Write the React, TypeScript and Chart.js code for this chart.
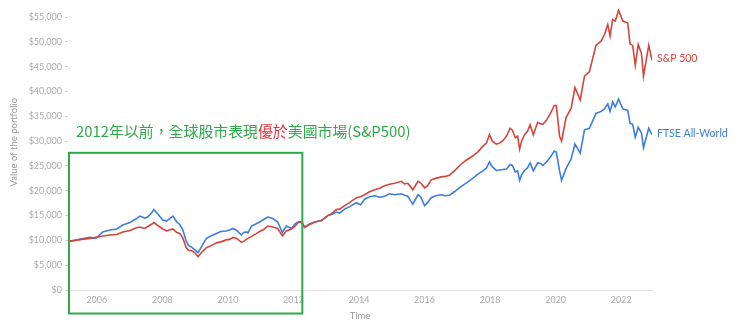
import React, { useEffect, useRef } from "react";
import { Chart, registerables } from "chart.js";

Chart.register(...registerables);

// Time (decimal years)
const years = [
  2005.12, 2005.33, 2005.54, 2005.79, 2005.97, 2006.18, 2006.4, 2006.61, 2006.79, 2007.01,
  2007.19, 2007.31, 2007.46, 2007.55, 2007.68, 2007.74, 2007.86, 2008.01, 2008.13, 2008.26,
  2008.32, 2008.44, 2008.53, 2008.62, 2008.73, 2008.8, 2008.9, 2008.99, 2009.09, 2009.2,
  2009.34, 2009.48, 2009.65, 2009.78, 2009.95, 2010.05, 2010.16, 2010.27, 2010.41, 2010.48,
  2010.56, 2010.61, 2010.72, 2010.85, 2010.97, 2011.09, 2011.22, 2011.37, 2011.52, 2011.66,
  2011.78, 2011.94, 2012.04, 2012.16, 2012.25, 2012.34, 2012.49, 2012.65, 2012.85, 2013.05,
  2013.16, 2013.31, 2013.41, 2013.56, 2013.71, 2013.92, 2014.05, 2014.17, 2014.32, 2014.48,
  2014.63, 2014.78, 2014.93, 2015.09, 2015.29, 2015.39, 2015.49, 2015.57, 2015.64, 2015.8,
  2015.88, 2016.0, 2016.09, 2016.2, 2016.34, 2016.51, 2016.64, 2016.76, 2016.91, 2017.12,
  2017.28, 2017.47, 2017.62, 2017.78, 2017.89, 2017.98, 2018.07, 2018.19, 2018.29, 2018.39,
  2018.5, 2018.61, 2018.68, 2018.77, 2018.84, 2018.9, 2018.96, 2019.05, 2019.14, 2019.22,
  2019.32, 2019.45, 2019.54, 2019.61, 2019.72, 2019.84, 2019.96, 2020.02, 2020.12, 2020.18,
  2020.32, 2020.47, 2020.59, 2020.75, 2020.88, 2021.03, 2021.23, 2021.39, 2021.49, 2021.59,
  2021.66, 2021.74, 2021.82, 2021.92, 2022.05, 2022.2, 2022.27, 2022.35, 2022.43, 2022.52,
  2022.62, 2022.68, 2022.84, 2022.94,
];

// Value of the portfolio, S&P 500 (USD)
const sp500 = [
  9800, 10000, 10200, 10400, 10600, 10900, 11100, 11200, 11700, 12000,
  12500, 12700, 12400, 12800, 13300, 13600, 13000, 12300, 11900, 12200,
  12300, 11600, 11400, 10500, 8500, 8000, 7900, 7500, 6700, 7600,
  8500, 8900, 9500, 9700, 10100, 10200, 10600, 10400, 9600, 9800,
  10200, 10400, 10800, 11300, 11800, 12200, 12900, 12700, 12400, 10900,
  11900, 12300, 12800, 13700, 13600, 12600, 13200, 13700, 14000, 15000,
  15400, 16200, 16300, 17000, 17600, 18600, 18800, 19200, 19800, 20200,
  20500, 21000, 21300, 21500, 21900, 21400, 21500, 20800, 20200, 21900,
  21600, 20600, 21000, 22200, 22500, 22800, 22900, 23100, 24000, 25400,
  26200, 27000, 27800, 29000, 29600, 31300, 30000, 29400, 29600, 30100,
  31000, 32600, 32200, 30700, 31000, 28400, 30000, 31300, 32000, 33300,
  31300, 33800, 33500, 33400, 34200, 35600, 37200, 37200, 31000, 30000,
  34800, 36600, 40800, 38300, 43100, 44000, 49300, 50200, 51500, 53500,
  51200, 54500, 54200, 56400, 54200, 53800, 49600, 49300, 45300, 49500,
  47600, 43100, 49300, 46300,
];

// Value of the portfolio, FTSE All-World (USD)
const ftse = [
  9800, 10000, 10300, 10600, 10400, 11700, 12100, 12300, 13100, 13600,
  14300, 14900, 14500, 14700, 15600, 16200, 15300, 14100, 13900, 14600,
  14900, 13700, 13200, 12200, 9800, 9000, 8600, 8100, 7500, 8800,
  10400, 10900, 11400, 11800, 11900, 12100, 12400, 12000, 11100, 11600,
  11700, 11500, 12900, 13300, 13700, 14200, 14700, 14400, 13700, 11600,
  12900, 12400, 13300, 13800, 13700, 12700, 13300, 13700, 14000, 15000,
  15200, 15700, 15500, 16300, 16800, 17600, 17200, 18300, 18800, 19000,
  18700, 18900, 19400, 19200, 19400, 19100, 18900, 18000, 17300, 19200,
  18800, 17000, 17600, 18600, 19000, 19200, 19000, 19100, 19800, 20900,
  21600, 22500, 23300, 24000, 24600, 25800, 24800, 24100, 24200, 24300,
  24400, 25300, 25100, 23800, 24000, 22100, 23200, 24100, 24600, 25600,
  24000, 25600, 25500, 25100, 25800, 26800, 28000, 27800, 24000, 22100,
  24500, 26400, 29400, 27600, 32300, 32600, 35600, 36000, 36500, 37500,
  36000, 37900, 36900, 38500, 36500, 36200, 33600, 33400, 30800, 32800,
  31600, 28700, 32600, 31300,
];

const seriesNames = ["S&P 500", "FTSE All-World"];
const yTicks = [0, 5000, 10000, 15000, 20000, 25000, 30000, 35000, 40000, 45000, 50000, 55000];
const xTicks = [2006, 2008, 2010, 2012, 2014, 2016, 2018, 2020, 2022];
const xTitle = "Time";
const yTitle = "Value of the portfolio";

// Highlighted period (years) and the annotation text
const highlightStart = 2005.12;
const highlightEnd = 2012.27;
const highlightTopValue = 27650;
const annotationParts = [
  { text: "2012年以前，全球股市表現", accent: false },
  { text: "優於", accent: true },
  { text: "美國市場(S&P500)", accent: false },
];

const RED = "#d4463c";
const BLUE = "#3d7ddc";
const GREEN = "#2eaa4a";
const ACCENT = "#e8333a";
const TICK_COLOR = "#ababab";
const TITLE_COLOR = "#9a9a9a";
const SANS = "Lato, 'Noto Sans', sans-serif";
const CJK = "'Noto Sans CJK TC', 'Noto Sans CJK SC', sans-serif";

const overlayPlugin = {
  id: "overlay",
  afterDatasetsDraw(chart: any) {
    const { ctx, chartArea, scales } = chart;
    const x = scales.x;
    const y = scales.y;

    // series end labels
    ctx.save();
    ctx.font = `10.5px ${SANS}`;
    ctx.textAlign = "left";
    ctx.textBaseline = "middle";
    chart.data.datasets.forEach((ds: any, i: number) => {
      const meta = chart.getDatasetMeta(i);
      const last = meta.data[meta.data.length - 1];
      ctx.fillStyle = ds.borderColor;
      ctx.fillText(seriesNames[i], last.x + 5, last.y - 1.5);
    });
    ctx.restore();

    // y axis title
    ctx.save();
    ctx.font = `9.5px ${SANS}`;
    ctx.fillStyle = TITLE_COLOR;
    ctx.textAlign = "center";
    ctx.textBaseline = "middle";
    ctx.translate(13.5, (chartArea.top + chartArea.bottom) / 2 - 7);
    ctx.rotate(-Math.PI / 2);
    ctx.fillText(yTitle, 0, 0);
    ctx.restore();

    // highlight box
    const left = x.getPixelForValue(highlightStart);
    const right = x.getPixelForValue(highlightEnd);
    const top = y.getPixelForValue(highlightTopValue);
    const bottom = chartArea.bottom + 23.5;
    ctx.save();
    ctx.strokeStyle = GREEN;
    ctx.lineWidth = 2;
    ctx.strokeRect(left + 1, top, right - left - 1, bottom - top);
    ctx.restore();

    // annotation text
    ctx.save();
    try {
      (ctx as any).lang = "zh-TW";
    } catch (e) {}
    ctx.font = `14.9px ${CJK}`;
    ctx.textAlign = "left";
    ctx.textBaseline = "middle";
    let tx = left + 8;
    const ty = top - 21;
    annotationParts.forEach((p) => {
      ctx.fillStyle = p.accent ? ACCENT : GREEN;
      ctx.fillText(p.text, tx, ty);
      tx += ctx.measureText(p.text).width;
    });
    ctx.restore();
  },
};

export default function App() {
  const ref = useRef<HTMLCanvasElement>(null);
  useEffect(() => {
    const canvas = ref.current;
    if (!canvas) return;
    const chart = new Chart(canvas, {
      type: "line",
      data: {
        datasets: [
          {
            label: seriesNames[0],
            data: years.map((v, i) => ({ x: v, y: sp500[i] })),
            borderColor: RED,
            borderWidth: 1.6,
            pointRadius: 0,
            tension: 0,
            fill: false,
          },
          {
            label: seriesNames[1],
            data: years.map((v, i) => ({ x: v, y: ftse[i] })),
            borderColor: BLUE,
            borderWidth: 1.6,
            pointRadius: 0,
            tension: 0,
            fill: false,
          },
        ],
      },
      options: {
        responsive: false,
        animation: false,
        layout: { padding: { left: 0, right: 88, top: 0, bottom: 0 } },
        plugins: { legend: { display: false }, tooltip: { enabled: false } },
        scales: {
          x: {
            type: "linear",
            min: years[0],
            max: years[years.length - 1],
            afterBuildTicks: (a: any) => {
              a.ticks = xTicks.map((v) => ({ value: v }));
            },
            afterFit: (a: any) => {
              a.height = 37;
            },
            grid: { drawOnChartArea: false, drawTicks: false },
            border: { display: true, color: "#e6e6e6", width: 1 },
            ticks: {
              padding: 5,
              color: TICK_COLOR,
              font: { family: SANS, size: 9 },
              maxRotation: 0,
              autoSkip: false,
              callback: (v: any) => String(v),
            },
            title: {
              display: true,
              text: xTitle,
              color: TITLE_COLOR,
              font: { family: SANS, size: 9.5 },
              padding: { top: 0, bottom: 5 },
            },
          },
          y: {
            type: "linear",
            min: 0,
            max: 56760,
            afterBuildTicks: (a: any) => {
              a.ticks = yTicks.map((v) => ({ value: v }));
            },
            afterFit: (a: any) => {
              a.width = 68;
            },
            grid: { drawOnChartArea: false, drawTicks: true, tickLength: 3, color: "#d0d0d0" },
            border: { display: false },
            ticks: {
              padding: 3,
              color: TICK_COLOR,
              font: { family: SANS, size: 9 },
              callback: (v: any) => "$" + Number(v).toLocaleString("en-US"),
            },
          },
        },
      },
      plugins: [overlayPlugin],
    });
    return () => chart.destroy();
  }, []);

  return (
    <div lang="zh-TW" style={{ position: "absolute", left: 0, top: 0, width: 740, height: 327, background: "#fff" }}>
      <canvas
        ref={ref}
        lang="zh-TW"
        width={740}
        height={327}
        style={{ width: 740, height: 327, display: "block" }}
      />
    </div>
  );
}
